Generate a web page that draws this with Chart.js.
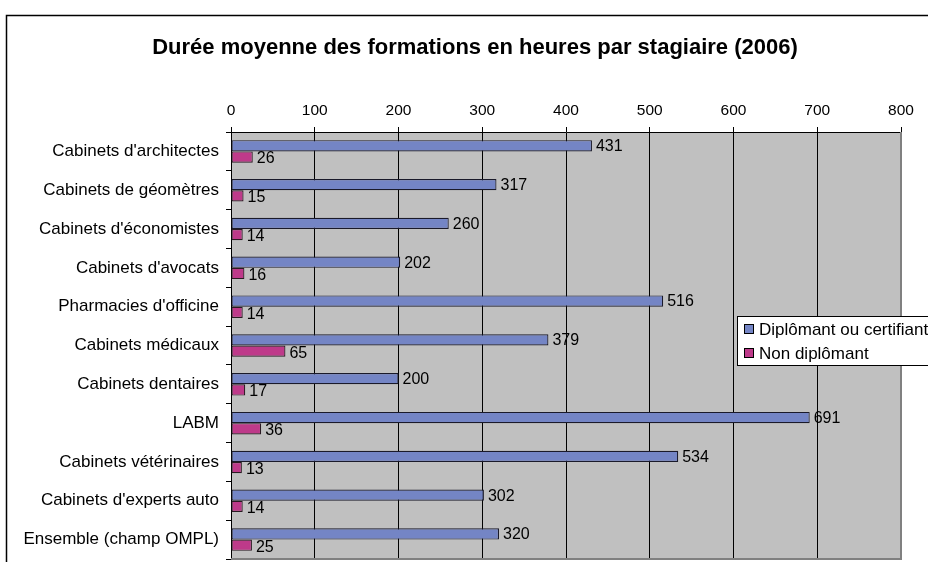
<!DOCTYPE html>
<html>
<head>
<meta charset="utf-8">
<script src="https://cdn.jsdelivr.net/npm/chart.js@4"></script>
<style>
  html, body { margin: 0; padding: 0; background: #fff; overflow: hidden; }
  #wrap { width: 952px; height: 580px; position: relative; }
</style>
</head>
<body>
<div id="wrap"><canvas id="chart"></canvas></div>
<script>
// Data
const titleText = 'Durée moyenne des formations en heures par stagiaire (2006)';
const categories = [
    "Cabinets d'architectes",
    'Cabinets de géomètres',
    "Cabinets d'économistes",
    "Cabinets d'avocats",
    "Pharmacies d'officine",
    'Cabinets médicaux',
    'Cabinets dentaires',
    'LABM',
    'Cabinets vétérinaires',
    "Cabinets d'experts auto",
    'Ensemble (champ OMPL)'
];
const diplomant = [431, 317, 260, 202, 516, 379, 200, 691, 534, 302, 320];
const nonDiplomant = [26, 15, 14, 16, 14, 65, 17, 36, 13, 14, 25];
const seriesNames = ['Diplômant ou certifiant', 'Non diplômant'];
const xMax = 800;
const xStep = 100;

const FONT = "'Liberation Sans', Arial, sans-serif";

// Gray plot area, outer frame and title
const framePlugin = {
    id: 'frame',
    beforeDraw(chart) {
        const {ctx, chartArea: a} = chart;
        ctx.save();
        ctx.fillStyle = '#fff';
        ctx.fillRect(0, 0, chart.width, chart.height);
        ctx.fillStyle = '#c0c0c0';
        ctx.fillRect(a.left, a.top, a.right - a.left, a.bottom - a.top);
        ctx.strokeStyle = '#000';
        ctx.lineWidth = 1.5;
        ctx.strokeRect(6.5, 15.5, chart.width - 4, chart.height);
        ctx.fillStyle = '#000';
        ctx.font = 'bold 22px ' + FONT;
        ctx.textAlign = 'center';
        ctx.textBaseline = 'middle';
        ctx.fillText(titleText, 475, 48);
        ctx.restore();
    },
    afterDraw(chart) {
        const {ctx, chartArea: a} = chart;
        ctx.save();
        ctx.strokeStyle = '#808080';
        ctx.lineWidth = 2;
        ctx.beginPath();
        ctx.moveTo(a.right, a.top);
        ctx.lineTo(a.right, a.bottom);
        ctx.lineTo(a.left, a.bottom);
        ctx.stroke();
        // legend
        const lx = 737, ly = 316, lw = 240, lh = 49;
        ctx.fillStyle = '#fff';
        ctx.fillRect(lx, ly, lw, lh);
        ctx.strokeStyle = '#000';
        ctx.lineWidth = 1;
        ctx.strokeRect(lx + 0.5, ly + 0.5, lw, lh);
        ctx.font = '17px ' + FONT;
        ctx.textAlign = 'left';
        ctx.textBaseline = 'middle';
        chart.data.datasets.forEach((ds, i) => {
            const cy = ly + 13 + i * 24;
            ctx.fillStyle = ds.backgroundColor;
            ctx.fillRect(lx + 7, cy - 5, 10, 10);
            ctx.strokeStyle = '#000';
            ctx.strokeRect(lx + 7.5, cy - 4.5, 9, 9);
            ctx.fillStyle = '#000';
            ctx.fillText(ds.label, lx + 22, cy + 1);
        });
        ctx.restore();
    }
};

// Value labels to the right of each bar
const valueLabels = {
    id: 'valueLabels',
    afterDatasetsDraw(chart) {
        const {ctx} = chart;
        ctx.save();
        ctx.font = '16px ' + FONT;
        ctx.fillStyle = '#000';
        ctx.textAlign = 'left';
        ctx.textBaseline = 'middle';
        chart.data.datasets.forEach((ds, i) => {
            chart.getDatasetMeta(i).data.forEach((bar, j) => {
                ctx.fillText(ds.data[j], bar.x + 4, bar.y + 1 + i);
            });
        });
        ctx.restore();
    }
};

new Chart(document.getElementById('chart'), {
    type: 'bar',
    data: {
        labels: categories,
        datasets: [{
            label: seriesNames[0],
            data: diplomant,
            backgroundColor: '#7485c5',
            borderColor: '#1a1a2a',
            borderWidth: 1.2,
            borderSkipped: false
        }, {
            label: seriesNames[1],
            data: nonDiplomant,
            backgroundColor: '#be3a8a',
            borderColor: '#2a1a22',
            borderWidth: 1.2,
            borderSkipped: false
        }]
    },
    options: {
        indexAxis: 'y',
        responsive: true,
        maintainAspectRatio: false,
        animation: false,
        layout: {
            padding: {left: 6, right: 51, top: 102, bottom: 21}
        },
        categoryPercentage: 0.58,
        barPercentage: 1,
        plugins: {
            legend: {display: false},
            tooltip: {enabled: false},
            title: {display: false}
        },
        scales: {
            x: {
                position: 'top',
                min: 0,
                max: xMax,
                afterFit(scale) { scale.height = 30; },
                ticks: {
                    stepSize: xStep,
                    color: '#000',
                    padding: 7,
                    font: {family: FONT, size: 15.5}
                },
                grid: {
                    color: (c) => c.tick && c.tick.value === xMax ? '#808080' : '#000',
                    tickColor: '#000',
                    tickLength: 5,
                    lineWidth: 1
                },
                border: {color: '#000', width: 1}
            },
            y: {
                afterFit(scale) { scale.width = 225; },
                ticks: {
                    color: '#000',
                    padding: 7,
                    font: {family: FONT, size: 17}
                },
                grid: {
                    drawOnChartArea: false,
                    offset: true,
                    color: '#000',
                    tickLength: 5
                },
                border: {color: '#000', width: 1}
            }
        }
    },
    plugins: [framePlugin, valueLabels]
});
</script>
</body>
</html>
